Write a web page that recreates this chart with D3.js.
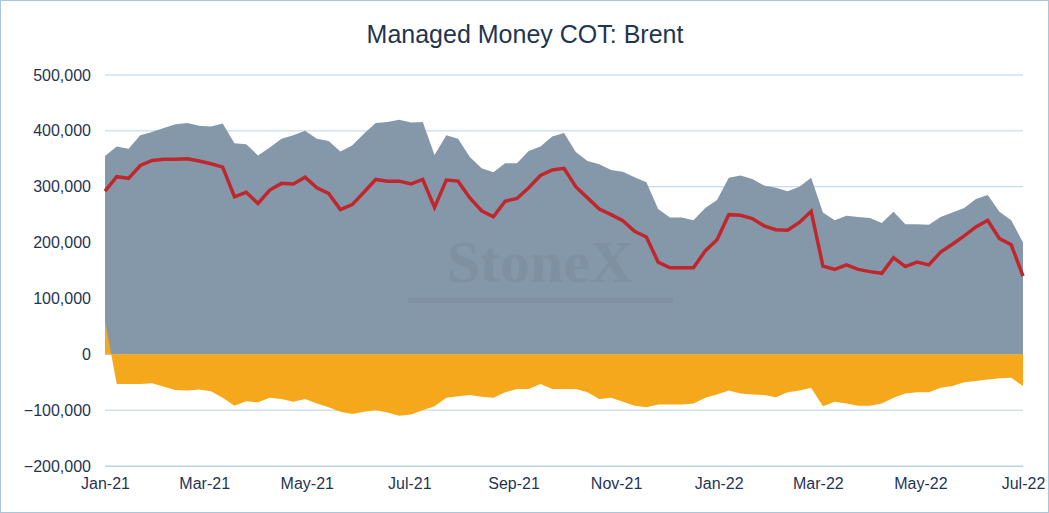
<!DOCTYPE html>
<html>
<head>
<meta charset="utf-8">
<script src="https://cdn.jsdelivr.net/npm/d3@7"></script>
<style>
  body { margin: 0; background: #fff; font-family: "Liberation Sans", Arial, sans-serif; }
</style>
</head>
<body>
<svg id="chart" width="1049" height="513"></svg>
<script>
var settings = {
  width: 1049,
  height: 513,
  left: 105,
  right: 1023,
  top: 75,
  bottom: 466,
  longColor: "#8598aa",
  shortColor: "#f5a81c",
  netColor: "#c0272d",
  grid: "#b9d3e6",
  text: "#1f3552"
};

// weekly values, thousands of contracts
var longs = [355,372,368,392,398,405,412,414,409,408,413,378,376,356,370,386,392,400,386,382,363,374,395,414,416,420,415,416,357,392,386,353,333,326,342,342,364,372,390,396,362,346,340,330,327,317,308,260,245,245,240,262,276,316,320,314,302,298,292,300,316,254,240,248,246,244,235,255,233,233,232,246,254,262,278,285,255,240,200];
var shorts = [60,-53,-53,-53,-52,-58,-64,-65,-63,-66,-78,-92,-84,-86,-78,-80,-85,-80,-88,-95,-103,-107,-103,-100,-104,-110,-108,-100,-93,-78,-75,-73,-76,-78,-68,-62,-62,-53,-62,-62,-62,-68,-80,-78,-85,-92,-95,-90,-90,-90,-88,-78,-72,-65,-70,-72,-73,-77,-68,-65,-60,-93,-85,-88,-92,-92,-88,-78,-70,-68,-68,-60,-57,-50,-48,-45,-43,-42,-57];
var nets = [292,318,315,338,347,349,349,350,346,341,335,282,290,270,294,306,305,317,298,288,259,268,290,313,310,310,305,313,263,312,310,280,257,246,274,279,298,320,330,333,300,280,260,250,239,220,210,165,155,155,155,185,205,250,249,243,230,223,222,236,256,158,152,160,152,148,145,173,157,165,160,183,197,212,228,240,207,196,140];

var start = new Date(2021, 0, 1);
var data = longs.map(function(d, i) {
  return { date: d3.timeDay.offset(start, 7 * i), long: d * 1000, short: shorts[i] * 1000, net: nets[i] * 1000 };
});

var svg = d3.select("#chart");
svg.append("rect").attr("x", 0.5).attr("y", 0.5).attr("width", settings.width - 1).attr("height", settings.height - 1)
  .attr("fill", "#fff").attr("stroke", "#a9c6dd");

var x = d3.scaleTime().domain([start, data[data.length - 1].date]).range([settings.left, settings.right]);
var y = d3.scaleLinear().domain([-200000, 500000]).range([settings.bottom, settings.top]);

svg.append("text").attr("x", 525).attr("y", 43).attr("text-anchor", "middle")
  .attr("font-size", 25).attr("fill", settings.text).text("Managed Money COT: Brent");

// grid
svg.selectAll(".grid").data(y.ticks(7)).enter().append("line")
  .attr("x1", settings.left).attr("x2", settings.right)
  .attr("y1", function(d) { return y(d); }).attr("y2", function(d) { return y(d); })
  .attr("stroke", settings.grid).attr("stroke-width", 1);

svg.append("path").datum(data)
  .attr("fill", settings.longColor)
  .attr("d", d3.area().x(function(d) { return x(d.date); }).y0(y(0)).y1(function(d) { return y(d.long); }));

svg.append("path").datum(data)
  .attr("fill", settings.shortColor)
  .attr("d", d3.area().x(function(d) { return x(d.date); }).y0(y(0)).y1(function(d) { return y(d.short); }));

// watermark
svg.append("text").attr("x", 540).attr("y", 282).attr("text-anchor", "middle")
  .attr("font-family", "Liberation Serif, serif").attr("font-size", 60).attr("font-weight", "bold")
  .attr("fill", "#7c8c9c").attr("opacity", 0.6).text("StoneX");
svg.append("rect").attr("x", 408).attr("y", 298).attr("width", 265).attr("height", 5)
  .attr("fill", "#7a8a9b").attr("opacity", 0.6);

svg.append("path").datum(data)
  .attr("fill", "none").attr("stroke", settings.netColor).attr("stroke-width", 3.5)
  .attr("d", d3.line().x(function(d) { return x(d.date); }).y(function(d) { return y(d.net); }));

var yAxis = svg.append("g").attr("transform", "translate(" + settings.left + ",0)")
  .call(d3.axisLeft(y).ticks(7).tickSize(0).tickPadding(14).tickFormat(d3.format(",")));
yAxis.select(".domain").remove();
yAxis.selectAll("text").attr("font-size", 16).attr("fill", settings.text).attr("font-family", "Liberation Sans, Arial");

var ticks = d3.timeMonth.every(2).range(start, d3.timeDay.offset(data[data.length - 1].date, 1));
var xAxis = svg.append("g").attr("transform", "translate(0," + settings.bottom + ")")
  .call(d3.axisBottom(x).tickValues(ticks).tickSize(0).tickPadding(12).tickFormat(d3.timeFormat("%b-%y")));
xAxis.select(".domain").attr("stroke", settings.grid);
xAxis.selectAll("text").attr("font-size", 16).attr("fill", settings.text).attr("font-family", "Liberation Sans, Arial");
</script>
</body>
</html>
